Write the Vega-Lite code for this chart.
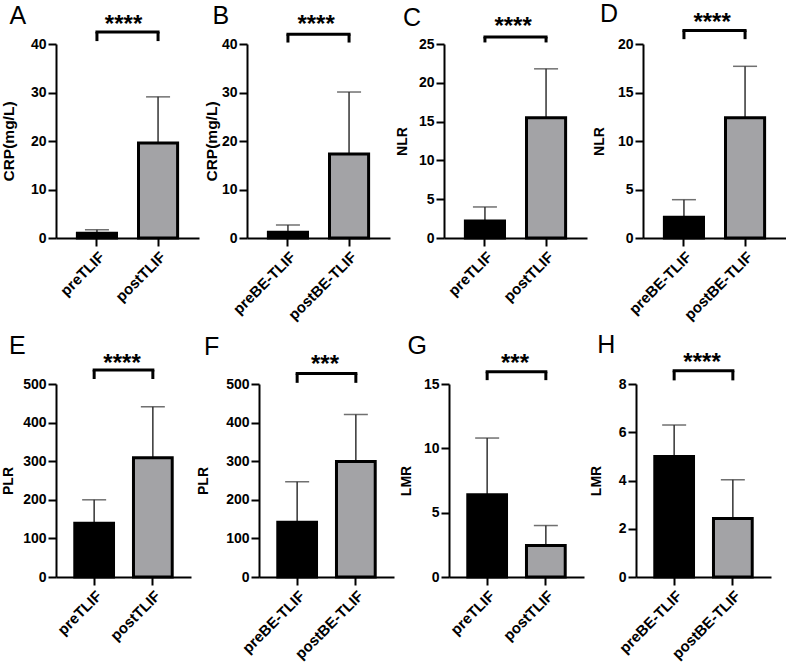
{
"$schema": "https://vega.github.io/schema/vega-lite/v6.json",
"padding": {"left": 1, "top": 2, "right": 0, "bottom": 0},
"background": "white",
"config": {
  "font": "Liberation Sans",
  "view": {"stroke": null},
  "axis": {"domainColor": "black", "domainWidth": 2, "tickColor": "black", "tickWidth": 2, "labelColor": "black", "labelFontWeight": "bold", "labelFontSize": 15, "titleFontSize": 14, "titleFontWeight": "bold", "titleColor": "black", "grid": false, "labelPadding": 3, "labelOverlap": false},
  "axisX": {"tickSize": 8, "title": null, "labelAngle": -45},
  "axisY": {"tickSize": 8, "labelPadding": 2, "labelFontSize": 14, "labelOverlap": false},
  "axisQuantitative": {"labelOverlap": false},
  "title": {"fontSize": 25, "fontWeight": "normal", "anchor": "start", "frame": "bounds", "color": "black", "offset": -16, "dx": 8}
},
"datasets": {
  "bars": [
    {"panel": "A", "group": "pre", "label": "preTLIF", "mean": 1.0, "upper": 1.7},
    {"panel": "A", "group": "post", "label": "postTLIF", "mean": 19.6, "upper": 29.1},
    {"panel": "B", "group": "pre", "label": "preBE-TLIF", "mean": 1.2, "upper": 2.7},
    {"panel": "B", "group": "post", "label": "postBE-TLIF", "mean": 17.3, "upper": 30.1},
    {"panel": "C", "group": "pre", "label": "preTLIF", "mean": 2.2, "upper": 4.0},
    {"panel": "C", "group": "post", "label": "postTLIF", "mean": 15.5, "upper": 21.8},
    {"panel": "D", "group": "pre", "label": "preBE-TLIF", "mean": 2.15, "upper": 3.95},
    {"panel": "D", "group": "post", "label": "postBE-TLIF", "mean": 12.4, "upper": 17.7},
    {"panel": "E", "group": "pre", "label": "preTLIF", "mean": 139, "upper": 200},
    {"panel": "E", "group": "post", "label": "postTLIF", "mean": 309, "upper": 441},
    {"panel": "F", "group": "pre", "label": "preBE-TLIF", "mean": 142, "upper": 247},
    {"panel": "F", "group": "post", "label": "postBE-TLIF", "mean": 299, "upper": 421},
    {"panel": "G", "group": "pre", "label": "preTLIF", "mean": 6.4, "upper": 10.8},
    {"panel": "G", "group": "post", "label": "postTLIF", "mean": 2.45, "upper": 4.0},
    {"panel": "H", "group": "pre", "label": "preBE-TLIF", "mean": 5.0, "upper": 6.3},
    {"panel": "H", "group": "post", "label": "postBE-TLIF", "mean": 2.43, "upper": 4.03}
  ],
  "sig": [
    {"panel": "A", "from": "preTLIF", "to": "postTLIF", "stars": "****"},
    {"panel": "B", "from": "preBE-TLIF", "to": "postBE-TLIF", "stars": "****"},
    {"panel": "C", "from": "preTLIF", "to": "postTLIF", "stars": "****"},
    {"panel": "D", "from": "preBE-TLIF", "to": "postBE-TLIF", "stars": "****"},
    {"panel": "E", "from": "preTLIF", "to": "postTLIF", "stars": "****"},
    {"panel": "F", "from": "preBE-TLIF", "to": "postBE-TLIF", "stars": "***"},
    {"panel": "G", "from": "preTLIF", "to": "postTLIF", "stars": "***"},
    {"panel": "H", "from": "preBE-TLIF", "to": "postBE-TLIF", "stars": "****"}
  ]
},
"columns": 1,
"align": "none",
"spacing": 9,
"concat": [
{
"spacing": 5,
"hconcat": [
{
 "width": 143, "height": 194, "title": {"text": "A"},
 "layer": [
  {"data": {"name": "bars"}, "transform": [{"filter": "datum.panel == 'A'"}], "mark": {"type": "rule", "color": "#333333", "strokeWidth": 1.5},
   "encoding": {"x": {"field": "label", "type": "nominal", "scale": {"domain": ["preTLIF", "postTLIF"], "paddingInner": 0.36, "paddingOuter": 0.35}, "axis": {"title": null}}, "y": {"field": "mean", "type": "quantitative", "scale": {"domain": [0, 40], "nice": false}, "axis": {"title": "CRP(mg/L)", "titleFontSize": 15.5, "titlePadding": 14, "values": [0, 10, 20, 30, 40], "labelOverlap": false}}, "y2": {"field": "upper"}}},
  {"data": {"name": "bars"}, "transform": [{"filter": "datum.panel == 'A'"}], "mark": {"type": "tick", "orient": "horizontal", "color": "#333333", "thickness": 1.5, "size": 24},
   "encoding": {"x": {"field": "label", "type": "nominal"}, "y": {"field": "upper", "type": "quantitative", "axis": {"title": "CRP(mg/L)", "titleFontSize": 15.5, "titlePadding": 14, "values": [0, 10, 20, 30, 40], "labelOverlap": false}}}},
  {"data": {"name": "bars"}, "transform": [{"filter": "datum.panel == 'A'"}], "mark": {"type": "bar", "stroke": "black", "strokeWidth": 3},
   "encoding": {"x": {"field": "label", "type": "nominal"}, "y": {"field": "mean", "type": "quantitative", "axis": {"title": "CRP(mg/L)", "titleFontSize": 15.5, "titlePadding": 14, "values": [0, 10, 20, 30, 40], "labelOverlap": false}}, "color": {"field": "group", "type": "nominal", "scale": {"domain": ["pre", "post"], "range": ["#000000", "#a3a3a6"]}, "legend": null}}},
  {"data": {"name": "sig"}, "transform": [{"filter": "datum.panel == 'A'"}], "mark": {"type": "rule", "color": "black", "strokeWidth": 3, "strokeCap": "square"},
   "encoding": {"x": {"field": "from", "type": "nominal"}, "x2": {"field": "to"}, "y": {"datum": 42.48, "axis": {"title": "CRP(mg/L)", "titleFontSize": 15.5, "titlePadding": 14, "values": [0, 10, 20, 30, 40], "labelOverlap": false}}}},
  {"data": {"name": "sig"}, "transform": [{"filter": "datum.panel == 'A'"}], "mark": {"type": "rule", "color": "black", "strokeWidth": 3},
   "encoding": {"x": {"field": "from", "type": "nominal"}, "y": {"datum": 40.6, "axis": {"title": "CRP(mg/L)", "titleFontSize": 15.5, "titlePadding": 14, "values": [0, 10, 20, 30, 40], "labelOverlap": false}}, "y2": {"datum": 42.48}}},
  {"data": {"name": "sig"}, "transform": [{"filter": "datum.panel == 'A'"}], "mark": {"type": "rule", "color": "black", "strokeWidth": 3},
   "encoding": {"x": {"field": "to", "type": "nominal"}, "y": {"datum": 40.6, "axis": {"title": "CRP(mg/L)", "titleFontSize": 15.5, "titlePadding": 14, "values": [0, 10, 20, 30, 40], "labelOverlap": false}}, "y2": {"datum": 42.48}}},
  {"data": {"name": "sig"}, "transform": [{"filter": "datum.panel == 'A'"}], "mark": {"type": "text", "fontSize": 24, "fontWeight": "bold", "baseline": "alphabetic", "color": "black"},
   "encoding": {"x": {"field": "from", "type": "nominal", "bandPosition": 1.18}, "y": {"datum": 42.56, "axis": {"title": "CRP(mg/L)", "titleFontSize": 15.5, "titlePadding": 14, "values": [0, 10, 20, 30, 40], "labelOverlap": false}}, "text": {"field": "stars"}}}
 ]
},
{
 "width": 143, "height": 194, "title": {"text": "B"},
 "layer": [
  {"data": {"name": "bars"}, "transform": [{"filter": "datum.panel == 'B'"}], "mark": {"type": "rule", "color": "#333333", "strokeWidth": 1.5},
   "encoding": {"x": {"field": "label", "type": "nominal", "scale": {"domain": ["preBE-TLIF", "postBE-TLIF"], "paddingInner": 0.36, "paddingOuter": 0.35}, "axis": {"title": null}}, "y": {"field": "mean", "type": "quantitative", "scale": {"domain": [0, 40], "nice": false}, "axis": {"title": "CRP(mg/L)", "titleFontSize": 15.5, "titlePadding": 2, "values": [0, 10, 20, 30, 40], "labelOverlap": false}}, "y2": {"field": "upper"}}},
  {"data": {"name": "bars"}, "transform": [{"filter": "datum.panel == 'B'"}], "mark": {"type": "tick", "orient": "horizontal", "color": "#333333", "thickness": 1.5, "size": 24},
   "encoding": {"x": {"field": "label", "type": "nominal"}, "y": {"field": "upper", "type": "quantitative", "axis": {"title": "CRP(mg/L)", "titleFontSize": 15.5, "titlePadding": 2, "values": [0, 10, 20, 30, 40], "labelOverlap": false}}}},
  {"data": {"name": "bars"}, "transform": [{"filter": "datum.panel == 'B'"}], "mark": {"type": "bar", "stroke": "black", "strokeWidth": 3},
   "encoding": {"x": {"field": "label", "type": "nominal"}, "y": {"field": "mean", "type": "quantitative", "axis": {"title": "CRP(mg/L)", "titleFontSize": 15.5, "titlePadding": 2, "values": [0, 10, 20, 30, 40], "labelOverlap": false}}, "color": {"field": "group", "type": "nominal", "scale": {"domain": ["pre", "post"], "range": ["#000000", "#a3a3a6"]}, "legend": null}}},
  {"data": {"name": "sig"}, "transform": [{"filter": "datum.panel == 'B'"}], "mark": {"type": "rule", "color": "black", "strokeWidth": 3, "strokeCap": "square"},
   "encoding": {"x": {"field": "from", "type": "nominal"}, "x2": {"field": "to"}, "y": {"datum": 42.0, "axis": {"title": "CRP(mg/L)", "titleFontSize": 15.5, "titlePadding": 2, "values": [0, 10, 20, 30, 40], "labelOverlap": false}}}},
  {"data": {"name": "sig"}, "transform": [{"filter": "datum.panel == 'B'"}], "mark": {"type": "rule", "color": "black", "strokeWidth": 3},
   "encoding": {"x": {"field": "from", "type": "nominal"}, "y": {"datum": 40.3, "axis": {"title": "CRP(mg/L)", "titleFontSize": 15.5, "titlePadding": 2, "values": [0, 10, 20, 30, 40], "labelOverlap": false}}, "y2": {"datum": 42.0}}},
  {"data": {"name": "sig"}, "transform": [{"filter": "datum.panel == 'B'"}], "mark": {"type": "rule", "color": "black", "strokeWidth": 3},
   "encoding": {"x": {"field": "to", "type": "nominal"}, "y": {"datum": 40.3, "axis": {"title": "CRP(mg/L)", "titleFontSize": 15.5, "titlePadding": 2, "values": [0, 10, 20, 30, 40], "labelOverlap": false}}, "y2": {"datum": 42.0}}},
  {"data": {"name": "sig"}, "transform": [{"filter": "datum.panel == 'B'"}], "mark": {"type": "text", "fontSize": 24, "fontWeight": "bold", "baseline": "alphabetic", "color": "black"},
   "encoding": {"x": {"field": "from", "type": "nominal", "bandPosition": 1.22}, "y": {"datum": 42.4, "axis": {"title": "CRP(mg/L)", "titleFontSize": 15.5, "titlePadding": 2, "values": [0, 10, 20, 30, 40], "labelOverlap": false}}, "text": {"field": "stars"}}}
 ]
},
{
 "width": 143, "height": 194, "title": {"text": "C"},
 "layer": [
  {"data": {"name": "bars"}, "transform": [{"filter": "datum.panel == 'C'"}], "mark": {"type": "rule", "color": "#333333", "strokeWidth": 1.5},
   "encoding": {"x": {"field": "label", "type": "nominal", "scale": {"domain": ["preTLIF", "postTLIF"], "paddingInner": 0.36, "paddingOuter": 0.35}, "axis": {"title": null}}, "y": {"field": "mean", "type": "quantitative", "scale": {"domain": [0, 25], "nice": false}, "axis": {"title": "NLR", "titlePadding": 9.4, "values": [0, 5, 10, 15, 20, 25], "labelOverlap": false}}, "y2": {"field": "upper"}}},
  {"data": {"name": "bars"}, "transform": [{"filter": "datum.panel == 'C'"}], "mark": {"type": "tick", "orient": "horizontal", "color": "#333333", "thickness": 1.5, "size": 24},
   "encoding": {"x": {"field": "label", "type": "nominal"}, "y": {"field": "upper", "type": "quantitative", "axis": {"title": "NLR", "titlePadding": 9.4, "values": [0, 5, 10, 15, 20, 25], "labelOverlap": false}}}},
  {"data": {"name": "bars"}, "transform": [{"filter": "datum.panel == 'C'"}], "mark": {"type": "bar", "stroke": "black", "strokeWidth": 3},
   "encoding": {"x": {"field": "label", "type": "nominal"}, "y": {"field": "mean", "type": "quantitative", "axis": {"title": "NLR", "titlePadding": 9.4, "values": [0, 5, 10, 15, 20, 25], "labelOverlap": false}}, "color": {"field": "group", "type": "nominal", "scale": {"domain": ["pre", "post"], "range": ["#000000", "#a3a3a6"]}, "legend": null}}},
  {"data": {"name": "sig"}, "transform": [{"filter": "datum.panel == 'C'"}], "mark": {"type": "rule", "color": "black", "strokeWidth": 3, "strokeCap": "square"},
   "encoding": {"x": {"field": "from", "type": "nominal"}, "x2": {"field": "to"}, "y": {"datum": 25.9, "axis": {"title": "NLR", "titlePadding": 9.4, "values": [0, 5, 10, 15, 20, 25], "labelOverlap": false}}}},
  {"data": {"name": "sig"}, "transform": [{"filter": "datum.panel == 'C'"}], "mark": {"type": "rule", "color": "black", "strokeWidth": 3},
   "encoding": {"x": {"field": "from", "type": "nominal"}, "y": {"datum": 25.2, "axis": {"title": "NLR", "titlePadding": 9.4, "values": [0, 5, 10, 15, 20, 25], "labelOverlap": false}}, "y2": {"datum": 25.9}}},
  {"data": {"name": "sig"}, "transform": [{"filter": "datum.panel == 'C'"}], "mark": {"type": "rule", "color": "black", "strokeWidth": 3},
   "encoding": {"x": {"field": "to", "type": "nominal"}, "y": {"datum": 25.2, "axis": {"title": "NLR", "titlePadding": 9.4, "values": [0, 5, 10, 15, 20, 25], "labelOverlap": false}}, "y2": {"datum": 25.9}}},
  {"data": {"name": "sig"}, "transform": [{"filter": "datum.panel == 'C'"}], "mark": {"type": "text", "fontSize": 24, "fontWeight": "bold", "baseline": "alphabetic", "color": "black"},
   "encoding": {"x": {"field": "from", "type": "nominal", "bandPosition": 1.22}, "y": {"datum": 26.3, "axis": {"title": "NLR", "titlePadding": 9.4, "values": [0, 5, 10, 15, 20, 25], "labelOverlap": false}}, "text": {"field": "stars"}}}
 ]
},
{
 "width": 143, "height": 194, "title": {"text": "D"},
 "layer": [
  {"data": {"name": "bars"}, "transform": [{"filter": "datum.panel == 'D'"}], "mark": {"type": "rule", "color": "#333333", "strokeWidth": 1.5},
   "encoding": {"x": {"field": "label", "type": "nominal", "scale": {"domain": ["preBE-TLIF", "postBE-TLIF"], "paddingInner": 0.36, "paddingOuter": 0.35}, "axis": {"title": null}}, "y": {"field": "mean", "type": "quantitative", "scale": {"domain": [0, 20], "nice": false}, "axis": {"title": "NLR", "titlePadding": 11.4, "values": [0, 5, 10, 15, 20], "labelOverlap": false}}, "y2": {"field": "upper"}}},
  {"data": {"name": "bars"}, "transform": [{"filter": "datum.panel == 'D'"}], "mark": {"type": "tick", "orient": "horizontal", "color": "#333333", "thickness": 1.5, "size": 24},
   "encoding": {"x": {"field": "label", "type": "nominal"}, "y": {"field": "upper", "type": "quantitative", "axis": {"title": "NLR", "titlePadding": 11.4, "values": [0, 5, 10, 15, 20], "labelOverlap": false}}}},
  {"data": {"name": "bars"}, "transform": [{"filter": "datum.panel == 'D'"}], "mark": {"type": "bar", "stroke": "black", "strokeWidth": 3},
   "encoding": {"x": {"field": "label", "type": "nominal"}, "y": {"field": "mean", "type": "quantitative", "axis": {"title": "NLR", "titlePadding": 11.4, "values": [0, 5, 10, 15, 20], "labelOverlap": false}}, "color": {"field": "group", "type": "nominal", "scale": {"domain": ["pre", "post"], "range": ["#000000", "#a3a3a6"]}, "legend": null}}},
  {"data": {"name": "sig"}, "transform": [{"filter": "datum.panel == 'D'"}], "mark": {"type": "rule", "color": "black", "strokeWidth": 3, "strokeCap": "square"},
   "encoding": {"x": {"field": "from", "type": "nominal"}, "x2": {"field": "to"}, "y": {"datum": 21.4, "axis": {"title": "NLR", "titlePadding": 11.4, "values": [0, 5, 10, 15, 20], "labelOverlap": false}}}},
  {"data": {"name": "sig"}, "transform": [{"filter": "datum.panel == 'D'"}], "mark": {"type": "rule", "color": "black", "strokeWidth": 3},
   "encoding": {"x": {"field": "from", "type": "nominal"}, "y": {"datum": 20.5, "axis": {"title": "NLR", "titlePadding": 11.4, "values": [0, 5, 10, 15, 20], "labelOverlap": false}}, "y2": {"datum": 21.4}}},
  {"data": {"name": "sig"}, "transform": [{"filter": "datum.panel == 'D'"}], "mark": {"type": "rule", "color": "black", "strokeWidth": 3},
   "encoding": {"x": {"field": "to", "type": "nominal"}, "y": {"datum": 20.5, "axis": {"title": "NLR", "titlePadding": 11.4, "values": [0, 5, 10, 15, 20], "labelOverlap": false}}, "y2": {"datum": 21.4}}},
  {"data": {"name": "sig"}, "transform": [{"filter": "datum.panel == 'D'"}], "mark": {"type": "text", "fontSize": 24, "fontWeight": "bold", "baseline": "alphabetic", "color": "black"},
   "encoding": {"x": {"field": "from", "type": "nominal", "bandPosition": 1.22}, "y": {"datum": 21.4, "axis": {"title": "NLR", "titlePadding": 11.4, "values": [0, 5, 10, 15, 20], "labelOverlap": false}}, "text": {"field": "stars"}}}
 ]
}
]
},
{
"spacing": 5,
"hconcat": [
{
 "width": 135, "height": 193, "title": {"text": "E", "offset": -7},
 "layer": [
  {"data": {"name": "bars"}, "transform": [{"filter": "datum.panel == 'E'"}], "mark": {"type": "rule", "color": "#333333", "strokeWidth": 1.5},
   "encoding": {"x": {"field": "label", "type": "nominal", "scale": {"domain": ["preTLIF", "postTLIF"], "paddingInner": 0.34, "paddingOuter": 0.32}, "axis": {"title": null}}, "y": {"field": "mean", "type": "quantitative", "scale": {"domain": [0, 500], "nice": false}, "axis": {"title": "PLR", "titlePadding": 7.6, "values": [0, 100, 200, 300, 400, 500], "labelOverlap": false}}, "y2": {"field": "upper"}}},
  {"data": {"name": "bars"}, "transform": [{"filter": "datum.panel == 'E'"}], "mark": {"type": "tick", "orient": "horizontal", "color": "#333333", "thickness": 1.5, "size": 24},
   "encoding": {"x": {"field": "label", "type": "nominal"}, "y": {"field": "upper", "type": "quantitative", "axis": {"title": "PLR", "titlePadding": 7.6, "values": [0, 100, 200, 300, 400, 500], "labelOverlap": false}}}},
  {"data": {"name": "bars"}, "transform": [{"filter": "datum.panel == 'E'"}], "mark": {"type": "bar", "stroke": "black", "strokeWidth": 3},
   "encoding": {"x": {"field": "label", "type": "nominal"}, "y": {"field": "mean", "type": "quantitative", "axis": {"title": "PLR", "titlePadding": 7.6, "values": [0, 100, 200, 300, 400, 500], "labelOverlap": false}}, "color": {"field": "group", "type": "nominal", "scale": {"domain": ["pre", "post"], "range": ["#000000", "#a3a3a6"]}, "legend": null}}},
  {"data": {"name": "sig"}, "transform": [{"filter": "datum.panel == 'E'"}], "mark": {"type": "rule", "color": "black", "strokeWidth": 3, "strokeCap": "square"},
   "encoding": {"x": {"field": "from", "type": "nominal"}, "x2": {"field": "to"}, "y": {"datum": 536, "axis": {"title": "PLR", "titlePadding": 7.6, "values": [0, 100, 200, 300, 400, 500], "labelOverlap": false}}}},
  {"data": {"name": "sig"}, "transform": [{"filter": "datum.panel == 'E'"}], "mark": {"type": "rule", "color": "black", "strokeWidth": 3},
   "encoding": {"x": {"field": "from", "type": "nominal"}, "y": {"datum": 513, "axis": {"title": "PLR", "titlePadding": 7.6, "values": [0, 100, 200, 300, 400, 500], "labelOverlap": false}}, "y2": {"datum": 536}}},
  {"data": {"name": "sig"}, "transform": [{"filter": "datum.panel == 'E'"}], "mark": {"type": "rule", "color": "black", "strokeWidth": 3},
   "encoding": {"x": {"field": "to", "type": "nominal"}, "y": {"datum": 513, "axis": {"title": "PLR", "titlePadding": 7.6, "values": [0, 100, 200, 300, 400, 500], "labelOverlap": false}}, "y2": {"datum": 536}}},
  {"data": {"name": "sig"}, "transform": [{"filter": "datum.panel == 'E'"}], "mark": {"type": "text", "fontSize": 24, "fontWeight": "bold", "baseline": "alphabetic", "color": "black"},
   "encoding": {"x": {"field": "from", "type": "nominal", "bandPosition": 1.22}, "y": {"datum": 534, "axis": {"title": "PLR", "titlePadding": 7.6, "values": [0, 100, 200, 300, 400, 500], "labelOverlap": false}}, "text": {"field": "stars"}}}
 ]
},
{
 "width": 135, "height": 193, "title": {"text": "F", "offset": -7},
 "layer": [
  {"data": {"name": "bars"}, "transform": [{"filter": "datum.panel == 'F'"}], "mark": {"type": "rule", "color": "#333333", "strokeWidth": 1.5},
   "encoding": {"x": {"field": "label", "type": "nominal", "scale": {"domain": ["preBE-TLIF", "postBE-TLIF"], "paddingInner": 0.34, "paddingOuter": 0.32}, "axis": {"title": null}}, "y": {"field": "mean", "type": "quantitative", "scale": {"domain": [0, 500], "nice": false}, "axis": {"title": "PLR", "titlePadding": 15.6, "values": [0, 100, 200, 300, 400, 500], "labelOverlap": false}}, "y2": {"field": "upper"}}},
  {"data": {"name": "bars"}, "transform": [{"filter": "datum.panel == 'F'"}], "mark": {"type": "tick", "orient": "horizontal", "color": "#333333", "thickness": 1.5, "size": 24},
   "encoding": {"x": {"field": "label", "type": "nominal"}, "y": {"field": "upper", "type": "quantitative", "axis": {"title": "PLR", "titlePadding": 15.6, "values": [0, 100, 200, 300, 400, 500], "labelOverlap": false}}}},
  {"data": {"name": "bars"}, "transform": [{"filter": "datum.panel == 'F'"}], "mark": {"type": "bar", "stroke": "black", "strokeWidth": 3},
   "encoding": {"x": {"field": "label", "type": "nominal"}, "y": {"field": "mean", "type": "quantitative", "axis": {"title": "PLR", "titlePadding": 15.6, "values": [0, 100, 200, 300, 400, 500], "labelOverlap": false}}, "color": {"field": "group", "type": "nominal", "scale": {"domain": ["pre", "post"], "range": ["#000000", "#a3a3a6"]}, "legend": null}}},
  {"data": {"name": "sig"}, "transform": [{"filter": "datum.panel == 'F'"}], "mark": {"type": "rule", "color": "black", "strokeWidth": 3, "strokeCap": "square"},
   "encoding": {"x": {"field": "from", "type": "nominal"}, "x2": {"field": "to"}, "y": {"datum": 527, "axis": {"title": "PLR", "titlePadding": 15.6, "values": [0, 100, 200, 300, 400, 500], "labelOverlap": false}}}},
  {"data": {"name": "sig"}, "transform": [{"filter": "datum.panel == 'F'"}], "mark": {"type": "rule", "color": "black", "strokeWidth": 3},
   "encoding": {"x": {"field": "from", "type": "nominal"}, "y": {"datum": 503, "axis": {"title": "PLR", "titlePadding": 15.6, "values": [0, 100, 200, 300, 400, 500], "labelOverlap": false}}, "y2": {"datum": 527}}},
  {"data": {"name": "sig"}, "transform": [{"filter": "datum.panel == 'F'"}], "mark": {"type": "rule", "color": "black", "strokeWidth": 3},
   "encoding": {"x": {"field": "to", "type": "nominal"}, "y": {"datum": 503, "axis": {"title": "PLR", "titlePadding": 15.6, "values": [0, 100, 200, 300, 400, 500], "labelOverlap": false}}, "y2": {"datum": 527}}},
  {"data": {"name": "sig"}, "transform": [{"filter": "datum.panel == 'F'"}], "mark": {"type": "text", "fontSize": 24, "fontWeight": "bold", "baseline": "alphabetic", "color": "black"},
   "encoding": {"x": {"field": "from", "type": "nominal", "bandPosition": 1.22}, "y": {"datum": 530, "axis": {"title": "PLR", "titlePadding": 15.6, "values": [0, 100, 200, 300, 400, 500], "labelOverlap": false}}, "text": {"field": "stars"}}}
 ]
},
{
 "width": 135, "height": 193, "title": {"text": "G", "offset": -7},
 "layer": [
  {"data": {"name": "bars"}, "transform": [{"filter": "datum.panel == 'G'"}], "mark": {"type": "rule", "color": "#333333", "strokeWidth": 1.5},
   "encoding": {"x": {"field": "label", "type": "nominal", "scale": {"domain": ["preTLIF", "postTLIF"], "paddingInner": 0.34, "paddingOuter": 0.32}, "axis": {"title": null}}, "y": {"field": "mean", "type": "quantitative", "scale": {"domain": [0, 15], "nice": false}, "axis": {"title": "LMR", "titlePadding": 10, "values": [0, 5, 10, 15], "labelOverlap": false}}, "y2": {"field": "upper"}}},
  {"data": {"name": "bars"}, "transform": [{"filter": "datum.panel == 'G'"}], "mark": {"type": "tick", "orient": "horizontal", "color": "#333333", "thickness": 1.5, "size": 24},
   "encoding": {"x": {"field": "label", "type": "nominal"}, "y": {"field": "upper", "type": "quantitative", "axis": {"title": "LMR", "titlePadding": 10, "values": [0, 5, 10, 15], "labelOverlap": false}}}},
  {"data": {"name": "bars"}, "transform": [{"filter": "datum.panel == 'G'"}], "mark": {"type": "bar", "stroke": "black", "strokeWidth": 3},
   "encoding": {"x": {"field": "label", "type": "nominal"}, "y": {"field": "mean", "type": "quantitative", "axis": {"title": "LMR", "titlePadding": 10, "values": [0, 5, 10, 15], "labelOverlap": false}}, "color": {"field": "group", "type": "nominal", "scale": {"domain": ["pre", "post"], "range": ["#000000", "#a3a3a6"]}, "legend": null}}},
  {"data": {"name": "sig"}, "transform": [{"filter": "datum.panel == 'G'"}], "mark": {"type": "rule", "color": "black", "strokeWidth": 3, "strokeCap": "square"},
   "encoding": {"x": {"field": "from", "type": "nominal"}, "x2": {"field": "to"}, "y": {"datum": 15.95, "axis": {"title": "LMR", "titlePadding": 10, "values": [0, 5, 10, 15], "labelOverlap": false}}}},
  {"data": {"name": "sig"}, "transform": [{"filter": "datum.panel == 'G'"}], "mark": {"type": "rule", "color": "black", "strokeWidth": 3},
   "encoding": {"x": {"field": "from", "type": "nominal"}, "y": {"datum": 15.3, "axis": {"title": "LMR", "titlePadding": 10, "values": [0, 5, 10, 15], "labelOverlap": false}}, "y2": {"datum": 15.95}}},
  {"data": {"name": "sig"}, "transform": [{"filter": "datum.panel == 'G'"}], "mark": {"type": "rule", "color": "black", "strokeWidth": 3},
   "encoding": {"x": {"field": "to", "type": "nominal"}, "y": {"datum": 15.3, "axis": {"title": "LMR", "titlePadding": 10, "values": [0, 5, 10, 15], "labelOverlap": false}}, "y2": {"datum": 15.95}}},
  {"data": {"name": "sig"}, "transform": [{"filter": "datum.panel == 'G'"}], "mark": {"type": "text", "fontSize": 24, "fontWeight": "bold", "baseline": "alphabetic", "color": "black"},
   "encoding": {"x": {"field": "from", "type": "nominal", "bandPosition": 1.22}, "y": {"datum": 16.0, "axis": {"title": "LMR", "titlePadding": 10, "values": [0, 5, 10, 15], "labelOverlap": false}}, "text": {"field": "stars"}}}
 ]
},
{
 "width": 135, "height": 193, "title": {"text": "H", "offset": -7},
 "layer": [
  {"data": {"name": "bars"}, "transform": [{"filter": "datum.panel == 'H'"}], "mark": {"type": "rule", "color": "#333333", "strokeWidth": 1.5},
   "encoding": {"x": {"field": "label", "type": "nominal", "scale": {"domain": ["preBE-TLIF", "postBE-TLIF"], "paddingInner": 0.34, "paddingOuter": 0.32}, "axis": {"title": null}}, "y": {"field": "mean", "type": "quantitative", "scale": {"domain": [0, 8], "nice": false}, "axis": {"title": "LMR", "titlePadding": 15, "values": [0, 2, 4, 6, 8], "labelOverlap": false}}, "y2": {"field": "upper"}}},
  {"data": {"name": "bars"}, "transform": [{"filter": "datum.panel == 'H'"}], "mark": {"type": "tick", "orient": "horizontal", "color": "#333333", "thickness": 1.5, "size": 24},
   "encoding": {"x": {"field": "label", "type": "nominal"}, "y": {"field": "upper", "type": "quantitative", "axis": {"title": "LMR", "titlePadding": 15, "values": [0, 2, 4, 6, 8], "labelOverlap": false}}}},
  {"data": {"name": "bars"}, "transform": [{"filter": "datum.panel == 'H'"}], "mark": {"type": "bar", "stroke": "black", "strokeWidth": 3},
   "encoding": {"x": {"field": "label", "type": "nominal"}, "y": {"field": "mean", "type": "quantitative", "axis": {"title": "LMR", "titlePadding": 15, "values": [0, 2, 4, 6, 8], "labelOverlap": false}}, "color": {"field": "group", "type": "nominal", "scale": {"domain": ["pre", "post"], "range": ["#000000", "#a3a3a6"]}, "legend": null}}},
  {"data": {"name": "sig"}, "transform": [{"filter": "datum.panel == 'H'"}], "mark": {"type": "rule", "color": "black", "strokeWidth": 3, "strokeCap": "square"},
   "encoding": {"x": {"field": "from", "type": "nominal"}, "x2": {"field": "to"}, "y": {"datum": 8.55, "axis": {"title": "LMR", "titlePadding": 15, "values": [0, 2, 4, 6, 8], "labelOverlap": false}}}},
  {"data": {"name": "sig"}, "transform": [{"filter": "datum.panel == 'H'"}], "mark": {"type": "rule", "color": "black", "strokeWidth": 3},
   "encoding": {"x": {"field": "from", "type": "nominal"}, "y": {"datum": 8.15, "axis": {"title": "LMR", "titlePadding": 15, "values": [0, 2, 4, 6, 8], "labelOverlap": false}}, "y2": {"datum": 8.55}}},
  {"data": {"name": "sig"}, "transform": [{"filter": "datum.panel == 'H'"}], "mark": {"type": "rule", "color": "black", "strokeWidth": 3},
   "encoding": {"x": {"field": "to", "type": "nominal"}, "y": {"datum": 8.15, "axis": {"title": "LMR", "titlePadding": 15, "values": [0, 2, 4, 6, 8], "labelOverlap": false}}, "y2": {"datum": 8.55}}},
  {"data": {"name": "sig"}, "transform": [{"filter": "datum.panel == 'H'"}], "mark": {"type": "text", "fontSize": 24, "fontWeight": "bold", "baseline": "alphabetic", "color": "black"},
   "encoding": {"x": {"field": "from", "type": "nominal", "bandPosition": 1.22}, "y": {"datum": 8.6, "axis": {"title": "LMR", "titlePadding": 15, "values": [0, 2, 4, 6, 8], "labelOverlap": false}}, "text": {"field": "stars"}}}
 ]
}
]
}
]
}
